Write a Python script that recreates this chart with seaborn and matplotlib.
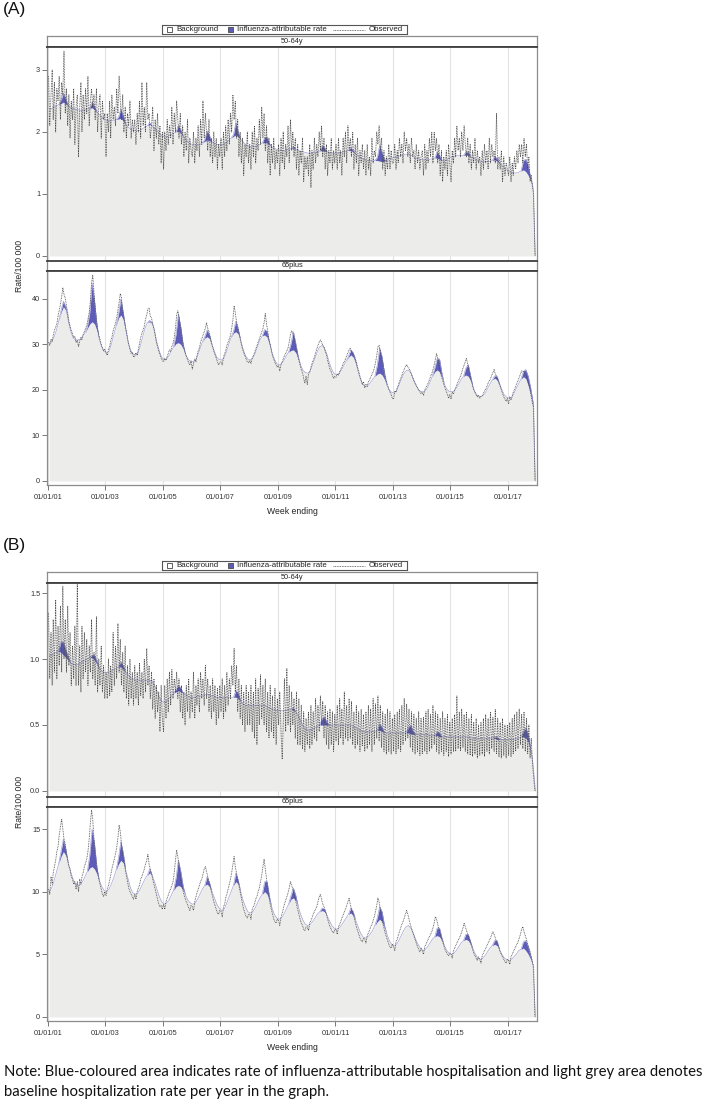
import numpy as np
import pandas as pd
import matplotlib
matplotlib.use("Agg")
import matplotlib.pyplot as plt
import matplotlib.dates as mdates
from matplotlib.patches import Rectangle
import seaborn as sns

sns.set_theme(style="white")
plt.rcParams['font.family'] = ['Liberation Sans', 'DejaVu Sans']

# ---------------- DATA (monthly background / flu, semi-monthly observed) -------------
# Panel A, 50-64y
bg_A50 = sum([
    [2.38, 2.38, 2.40, 2.42, 2.44, 2.46, 2.48, 2.45, 2.42, 2.40, 2.38, 2.37],
    [2.36, 2.35, 2.35, 2.36, 2.37, 2.38, 2.39, 2.36, 2.32, 2.28, 2.24, 2.21],
    [2.19, 2.18, 2.18, 2.19, 2.20, 2.21, 2.22, 2.18, 2.12, 2.08, 2.05, 2.03],
    [2.02, 2.02, 2.03, 2.05, 2.08, 2.10, 2.12, 2.10, 2.06, 2.02, 1.98, 1.94],
    [1.92, 1.92, 1.94, 1.96, 1.98, 2.00, 2.01, 1.98, 1.93, 1.88, 1.84, 1.81],
    [1.80, 1.79, 1.79, 1.80, 1.82, 1.85, 1.87, 1.86, 1.84, 1.82, 1.80, 1.80],
    [1.80, 1.81, 1.83, 1.86, 1.90, 1.93, 1.95, 1.92, 1.88, 1.84, 1.80, 1.78],
    [1.76, 1.76, 1.77, 1.78, 1.80, 1.82, 1.83, 1.82, 1.79, 1.76, 1.74, 1.72],
    [1.71, 1.70, 1.70, 1.71, 1.72, 1.73, 1.74, 1.72, 1.70, 1.69, 1.68, 1.67],
    [1.66, 1.66, 1.66, 1.67, 1.68, 1.69, 1.70, 1.69, 1.68, 1.67, 1.66, 1.66],
    [1.66, 1.66, 1.67, 1.68, 1.69, 1.70, 1.70, 1.68, 1.65, 1.62, 1.59, 1.57],
    [1.55, 1.54, 1.54, 1.54, 1.54, 1.54, 1.53, 1.52, 1.53, 1.55, 1.57, 1.58],
    [1.59, 1.60, 1.61, 1.62, 1.63, 1.64, 1.65, 1.63, 1.60, 1.58, 1.57, 1.56],
    [1.55, 1.55, 1.55, 1.56, 1.57, 1.58, 1.58, 1.56, 1.54, 1.53, 1.55, 1.58],
    [1.60, 1.61, 1.62, 1.62, 1.62, 1.62, 1.63, 1.62, 1.60, 1.58, 1.56, 1.54],
    [1.53, 1.52, 1.52, 1.52, 1.53, 1.54, 1.55, 1.53, 1.50, 1.46, 1.42, 1.39],
    [1.37, 1.35, 1.34, 1.34, 1.35, 1.37, 1.39, 1.36, 1.30, 1.22, 1.10, 0.00],
], [])
flu_A50 = sum([
    [0, 0, 0, 0, 0, 0.05, 0.15, 0.08, 0, 0, 0, 0],
    [0, 0, 0, 0, 0, 0, 0.10, 0.05, 0, 0, 0, 0],
    [0, 0, 0, 0, 0, 0.03, 0.15, 0.08, 0, 0, 0, 0],
    [0, 0, 0, 0, 0, 0, 0.03, 0, 0, 0, 0, 0],
    [0, 0, 0, 0, 0, 0, 0.10, 0.05, 0, 0, 0, 0],
    [0, 0, 0, 0, 0, 0.03, 0.15, 0.08, 0, 0, 0, 0],
    [0, 0, 0, 0, 0, 0.03, 0.20, 0.08, 0, 0, 0, 0],
    [0, 0, 0, 0, 0, 0, 0.08, 0.10, 0.02, 0, 0, 0],
    [0, 0, 0, 0, 0, 0, 0.03, 0, 0, 0, 0, 0],
    [0, 0, 0, 0, 0, 0, 0.08, 0.06, 0, 0, 0, 0],
    [0, 0, 0, 0, 0, 0, 0.05, 0.02, 0, 0, 0, 0],
    [0, 0, 0, 0, 0, 0.05, 0.25, 0.15, 0.02, 0, 0, 0],
    [0, 0, 0, 0, 0, 0, 0, 0, 0, 0, 0, 0],
    [0, 0, 0, 0, 0, 0, 0.10, 0.06, 0, 0, 0, 0],
    [0, 0, 0, 0, 0, 0, 0.05, 0.06, 0, 0, 0, 0],
    [0, 0, 0, 0, 0, 0, 0.06, 0.04, 0, 0, 0, 0],
    [0, 0, 0, 0, 0, 0, 0.15, 0.20, 0.15, 0.05, 0, 0],
], [])
obs_A50 = sum([
    [2.9, 2.1, 2.6, 3.0, 2.2, 2.8, 2.0, 2.7, 2.5, 2.9, 2.2, 2.8, 2.6, 3.3, 2.3, 2.7, 2.1, 2.6, 1.9, 2.5, 2.2, 2.7, 1.8, 2.4],
    [2.6, 1.6, 2.4, 2.8, 2.0, 2.6, 2.2, 2.7, 2.3, 2.9, 2.1, 2.5, 2.7, 2.4, 2.6, 2.2, 2.7, 2.0, 2.4, 2.6, 1.9, 2.5, 2.2, 2.3],
    [1.6, 2.3, 2.0, 2.5, 1.9, 2.6, 2.2, 2.4, 2.1, 2.7, 2.3, 2.9, 2.5, 2.2, 2.6, 2.0, 2.4, 1.9, 2.3, 2.1, 2.5, 1.9, 2.2, 2.0],
    [2.2, 1.8, 2.3, 2.0, 2.5, 1.9, 2.8, 2.1, 2.4, 2.0, 2.8, 2.2, 2.3, 1.9, 2.1, 2.4, 1.7, 2.2, 1.9, 2.3, 1.8, 2.1, 1.5, 2.0],
    [1.4, 2.0, 1.7, 2.2, 1.8, 2.1, 1.9, 2.4, 1.8, 2.3, 2.0, 2.5, 2.2, 1.9, 2.3, 1.8, 2.1, 1.6, 2.0, 1.7, 2.2, 1.5, 1.9, 1.7],
    [1.6, 2.0, 1.5, 1.9, 1.7, 2.1, 1.6, 2.2, 1.8, 2.5, 1.9, 2.3, 2.0, 1.7, 2.2, 1.6, 1.9, 1.5, 2.0, 1.6, 1.9, 1.4, 1.8, 1.6],
    [1.9, 1.4, 2.0, 1.6, 2.1, 1.7, 2.2, 1.8, 2.3, 2.0, 2.6, 2.2, 2.5, 1.9, 2.2, 1.6, 2.0, 1.5, 1.9, 1.3, 1.8, 1.6, 2.0, 1.5],
    [1.8, 1.4, 2.0, 1.6, 2.1, 1.5, 1.9, 1.7, 2.2, 1.8, 2.4, 1.9, 2.3, 1.7, 2.1, 1.5, 1.9, 1.3, 1.8, 1.5, 1.9, 1.4, 1.7, 1.5],
    [1.8, 1.3, 1.9, 1.5, 2.0, 1.4, 1.8, 1.6, 2.1, 1.5, 2.2, 1.7, 2.0, 1.6, 1.9, 1.4, 1.8, 1.3, 1.7, 1.5, 1.9, 1.2, 1.6, 1.4],
    [1.6, 1.3, 1.8, 1.1, 1.7, 1.4, 1.9, 1.5, 1.8, 1.6, 2.0, 1.7, 2.1, 1.6, 1.9, 1.4, 1.8, 1.3, 1.7, 1.5, 1.9, 1.4, 1.7, 1.5],
    [1.8, 1.4, 1.9, 1.5, 1.7, 1.3, 1.9, 1.6, 2.0, 1.5, 2.1, 1.7, 1.9, 1.6, 2.0, 1.4, 1.8, 1.5, 1.9, 1.3, 1.7, 1.5, 1.8, 1.4],
    [1.7, 1.3, 1.8, 1.4, 1.6, 1.3, 1.9, 1.5, 1.7, 1.6, 2.0, 1.8, 2.1, 1.7, 1.9, 1.4, 1.7, 1.3, 1.6, 1.4, 1.8, 1.4, 1.7, 1.5],
    [1.5, 1.8, 1.4, 1.7, 1.5, 1.9, 1.6, 1.8, 1.5, 2.0, 1.7, 1.9, 1.6, 1.8, 1.5, 1.9, 1.6, 1.7, 1.4, 1.8, 1.5, 1.7, 1.4, 1.6],
    [1.7, 1.3, 1.8, 1.4, 1.7, 1.5, 1.9, 1.6, 2.0, 1.5, 2.0, 1.7, 1.9, 1.5, 1.8, 1.3, 1.7, 1.2, 1.6, 1.4, 1.7, 1.3, 1.8, 1.5],
    [1.2, 1.7, 1.5, 1.9, 1.6, 2.1, 1.7, 1.9, 1.6, 2.0, 1.7, 2.1, 1.8, 1.6, 1.9, 1.5, 1.8, 1.4, 1.7, 1.5, 1.9, 1.4, 1.7, 1.5],
    [1.6, 1.3, 1.7, 1.4, 1.8, 1.5, 1.7, 1.4, 1.9, 1.5, 1.8, 1.6, 1.7, 1.5, 2.3, 1.4, 1.6, 1.4, 1.7, 1.2, 1.6, 1.3, 1.5, 1.4],
    [1.3, 1.6, 1.2, 1.5, 1.3, 1.6, 1.4, 1.7, 1.5, 1.8, 1.6, 1.8, 1.5, 1.9, 1.6, 1.8, 1.4, 1.6, 1.2, 1.3, 1.1, 1.0, 0.0],
], [])

# Panel A, 65plus
bg_A65 = sum([
    [30.3, 30.5, 31.5, 33.0, 35.0, 37.0, 38.3, 37.5, 35.0, 33.0, 31.5, 31.0],
    [31.0, 31.2, 31.8, 32.5, 33.5, 34.5, 35.0, 34.5, 33.0, 31.0, 29.5, 28.5],
    [28.1, 28.5, 30.0, 32.0, 34.0, 35.8, 36.5, 35.5, 33.0, 30.5, 28.8, 28.0],
    [27.7, 28.0, 29.5, 31.5, 33.5, 34.8, 35.0, 34.6, 33.0, 30.5, 28.5, 27.2],
    [26.6, 26.8, 27.5, 28.5, 29.5, 30.2, 30.4, 30.0, 29.0, 27.8, 26.8, 26.3],
    [26.2, 26.5, 27.5, 29.0, 30.5, 31.4, 31.7, 31.3, 30.0, 28.5, 27.2, 26.7],
    [26.6, 27.0, 28.3, 30.0, 31.5, 32.5, 32.8, 32.3, 31.0, 29.0, 27.5, 26.8],
    [26.6, 27.0, 28.0, 29.5, 31.0, 31.9, 32.1, 31.6, 30.0, 28.3, 26.8, 25.8],
    [25.5, 25.8, 26.5, 27.5, 28.3, 28.7, 28.8, 28.2, 27.0, 25.5, 24.3, 23.8],
    [23.7, 24.2, 25.5, 27.0, 28.5, 29.5, 29.8, 29.2, 27.8, 26.0, 24.5, 23.6],
    [23.3, 23.6, 24.3, 25.3, 26.3, 27.2, 27.7, 27.2, 25.8, 24.0, 22.3, 21.2],
    [20.7, 20.9, 21.5, 22.3, 23.0, 23.5, 23.7, 23.3, 22.3, 21.0, 20.0, 19.5],
    [19.3, 19.8, 21.0, 22.3, 23.5, 24.2, 24.4, 23.8, 22.5, 21.2, 20.2, 19.7],
    [19.6, 19.8, 20.5, 21.7, 23.0, 24.0, 24.4, 24.0, 22.8, 21.3, 20.2, 19.7],
    [19.6, 19.8, 20.4, 21.3, 22.3, 23.0, 23.3, 23.0, 22.0, 20.6, 19.3, 18.7],
    [18.5, 18.7, 19.3, 20.3, 21.3, 22.2, 22.6, 22.2, 21.2, 20.0, 18.9, 18.4],
    [18.2, 18.4, 19.2, 20.3, 21.4, 22.4, 22.9, 22.5, 21.0, 19.0, 16.5, 0.0],
], [])
flu_A65 = sum([
    [0, 0, 0, 0, 0, 0.4, 1.2, 0.7, 0.2, 0, 0, 0],
    [0, 0, 0, 0, 0.4, 2.5, 8.5, 5.0, 1.2, 0, 0, 0],
    [0, 0, 0, 0, 0, 0.8, 3.5, 1.5, 0.3, 0, 0, 0],
    [0, 0, 0, 0, 0, 0, 0.3, 0.2, 0, 0, 0, 0],
    [0, 0, 0, 0, 0, 2.0, 6.3, 3.8, 0.8, 0, 0, 0],
    [0, 0, 0, 0, 0, 0.3, 1.5, 0.8, 0, 0, 0, 0],
    [0, 0, 0, 0, 0, 0.4, 2.3, 1.0, 0, 0, 0, 0],
    [0, 0, 0, 0, 0, 0, 1.2, 1.3, 0.4, 0, 0, 0],
    [0, 0, 0, 0, 0, 1.5, 4.0, 2.0, 0.3, 0, 0, 0],
    [0, 0, 0, 0, 0, 0, 0, 0, 0, 0, 0, 0],
    [0, 0, 0, 0, 0, 0.2, 1.1, 1.0, 0.5, 0, 0, 0],
    [0, 0, 0, 0, 0, 2.0, 5.5, 4.0, 1.2, 0, 0, 0],
    [0, 0, 0, 0, 0, 0, 0, 0, 0, 0, 0, 0],
    [0, 0, 0, 0, 0, 0.8, 2.5, 2.8, 0.8, 0, 0, 0],
    [0, 0, 0, 0, 0, 0, 1.5, 2.6, 1.0, 0, 0, 0],
    [0, 0, 0, 0, 0, 0, 0.5, 0.8, 0.2, 0, 0, 0],
    [0, 0, 0, 0, 0, 0, 1.2, 2.0, 2.0, 1.5, 0.8, 0],
], [])
obs_A65 = sum([
    [30.5, 29.8, 31.2, 30.6, 32.0, 33.1, 33.8, 34.5, 36.2, 37.5, 38.8, 40.5, 42.5, 41.0, 40.2, 38.5, 37.0, 35.2, 34.0, 33.1, 32.4, 31.5, 31.8, 30.4],
    [31.0, 29.5, 30.8, 31.5, 31.0, 32.2, 32.8, 33.5, 34.2, 35.5, 37.0, 39.5, 43.5, 45.2, 41.5, 38.0, 35.5, 33.5, 32.0, 31.2, 30.0, 29.2, 28.6, 29.0],
    [28.2, 27.6, 29.0, 29.5, 30.8, 31.5, 33.0, 33.8, 34.6, 35.8, 37.5, 39.2, 41.2, 40.3, 37.5, 35.8, 34.2, 33.0, 31.5, 30.0, 29.0, 28.0, 28.3, 27.2],
    [27.5, 28.2, 27.6, 29.0, 30.2, 31.5, 32.5, 33.2, 34.0, 35.5, 36.5, 37.8, 38.0, 36.2, 35.8, 34.5, 33.5, 32.0, 30.5, 29.5, 28.5, 27.8, 27.0, 26.5],
    [26.2, 27.0, 26.5, 27.4, 28.0, 28.8, 28.5, 29.6, 30.2, 31.5, 33.5, 36.5, 37.4, 36.0, 34.2, 32.5, 30.5, 29.5, 28.2, 27.5, 26.8, 26.0, 25.5, 26.4],
    [24.6, 25.8, 26.8, 26.2, 27.5, 28.6, 29.2, 30.5, 31.2, 32.0, 32.8, 33.6, 34.8, 33.5, 32.8, 31.5, 30.2, 29.5, 28.5, 27.8, 27.0, 26.2, 25.5, 26.0],
    [26.2, 25.5, 27.2, 28.0, 28.6, 29.8, 30.5, 31.2, 32.0, 33.5, 35.5, 38.5, 37.0, 35.0, 34.0, 32.5, 31.2, 30.0, 29.0, 28.2, 27.5, 26.8, 26.2, 26.0],
    [26.5, 25.8, 27.0, 27.5, 28.2, 29.0, 29.8, 30.5, 31.2, 32.0, 32.8, 33.5, 34.8, 36.8, 34.5, 33.0, 31.0, 30.0, 28.8, 27.5, 26.8, 26.0, 25.5, 25.0],
    [25.4, 24.2, 25.6, 26.2, 26.8, 27.5, 28.0, 28.6, 29.2, 30.5, 32.2, 33.0, 32.5, 31.5, 30.0, 28.8, 27.5, 26.5, 25.5, 24.5, 23.8, 22.5, 21.5, 23.0],
    [21.2, 23.5, 24.0, 25.0, 25.8, 26.5, 27.2, 28.2, 29.0, 29.8, 30.5, 31.0, 30.5, 29.8, 29.5, 28.5, 27.8, 26.5, 25.5, 24.5, 24.0, 23.2, 22.5, 23.0],
    [22.8, 23.6, 23.2, 24.0, 24.5, 25.0, 25.8, 26.2, 26.8, 27.5, 28.2, 28.8, 29.2, 28.5, 28.0, 27.6, 27.0, 26.2, 25.0, 24.2, 23.0, 22.2, 21.2, 21.8],
    [20.5, 21.3, 20.8, 21.8, 22.2, 22.8, 23.5, 24.0, 24.8, 26.0, 27.5, 29.5, 29.8, 28.5, 27.0, 26.0, 24.5, 23.2, 22.0, 21.2, 20.2, 19.5, 19.0, 18.2],
    [18.0, 19.8, 19.5, 20.5, 21.0, 21.8, 22.5, 23.2, 24.0, 24.5, 25.2, 25.6, 25.0, 24.8, 24.2, 23.5, 22.8, 22.0, 21.5, 21.0, 20.5, 20.0, 19.6, 19.2],
    [19.5, 18.8, 20.0, 20.5, 21.0, 21.5, 22.2, 23.0, 23.5, 24.5, 25.5, 26.8, 28.0, 27.0, 25.5, 24.0, 23.0, 22.0, 21.2, 20.5, 19.8, 19.0, 18.2, 19.0],
    [18.0, 19.5, 19.2, 20.0, 20.5, 21.2, 21.8, 22.5, 23.0, 23.8, 24.8, 25.5, 26.2, 27.0, 25.5, 24.2, 23.0, 22.0, 21.0, 20.0, 19.5, 19.0, 18.5, 18.8],
    [18.2, 18.6, 18.8, 19.2, 19.8, 20.2, 20.8, 21.5, 22.0, 22.5, 23.2, 23.8, 24.5, 23.5, 23.0, 22.2, 21.5, 20.8, 20.0, 19.2, 18.5, 18.0, 17.5, 18.2],
    [17.0, 18.5, 17.8, 18.6, 19.5, 20.0, 20.8, 21.5, 22.0, 22.8, 23.5, 24.2, 24.0, 24.2, 23.5, 23.0, 22.0, 21.0, 20.0, 18.5, 17.0, 16.2, 0.0],
], [])

# Panel B, 50-64y
bg_B50 = sum([
    [1.03, 1.03, 1.04, 1.05, 1.06, 1.05, 1.03, 1.01, 0.99, 0.97, 0.96, 0.96],
    [0.96, 0.97, 0.98, 0.99, 1.00, 1.01, 1.01, 0.99, 0.96, 0.93, 0.91, 0.90],
    [0.90, 0.90, 0.91, 0.92, 0.93, 0.94, 0.94, 0.92, 0.90, 0.88, 0.86, 0.85],
    [0.84, 0.84, 0.84, 0.84, 0.84, 0.84, 0.84, 0.83, 0.80, 0.76, 0.71, 0.68],
    [0.67, 0.68, 0.70, 0.72, 0.74, 0.75, 0.76, 0.75, 0.74, 0.73, 0.72, 0.71],
    [0.71, 0.71, 0.72, 0.72, 0.72, 0.73, 0.73, 0.73, 0.72, 0.72, 0.71, 0.71],
    [0.71, 0.71, 0.71, 0.71, 0.71, 0.71, 0.71, 0.70, 0.68, 0.66, 0.65, 0.65],
    [0.65, 0.65, 0.65, 0.65, 0.65, 0.65, 0.65, 0.64, 0.63, 0.62, 0.62, 0.61],
    [0.61, 0.61, 0.61, 0.61, 0.62, 0.62, 0.61, 0.60, 0.57, 0.53, 0.49, 0.47],
    [0.46, 0.46, 0.47, 0.48, 0.49, 0.50, 0.50, 0.50, 0.50, 0.50, 0.50, 0.50],
    [0.50, 0.50, 0.50, 0.50, 0.50, 0.50, 0.50, 0.49, 0.48, 0.47, 0.46, 0.45],
    [0.45, 0.45, 0.45, 0.45, 0.45, 0.46, 0.46, 0.45, 0.44, 0.44, 0.44, 0.44],
    [0.44, 0.44, 0.44, 0.44, 0.44, 0.44, 0.44, 0.43, 0.43, 0.43, 0.43, 0.43],
    [0.43, 0.43, 0.43, 0.42, 0.42, 0.42, 0.42, 0.41, 0.41, 0.41, 0.41, 0.41],
    [0.41, 0.41, 0.41, 0.41, 0.41, 0.41, 0.41, 0.41, 0.40, 0.40, 0.40, 0.40],
    [0.40, 0.40, 0.40, 0.40, 0.40, 0.40, 0.40, 0.39, 0.39, 0.39, 0.39, 0.39],
    [0.39, 0.39, 0.39, 0.40, 0.40, 0.41, 0.41, 0.40, 0.37, 0.30, 0.20, 0.00],
], [])
flu_B50 = sum([
    [0, 0, 0, 0, 0, 0.08, 0.10, 0.06, 0.03, 0, 0, 0],
    [0, 0, 0, 0, 0, 0, 0.02, 0.04, 0.02, 0, 0, 0],
    [0, 0, 0, 0, 0, 0, 0.04, 0.03, 0, 0, 0, 0],
    [0, 0, 0, 0, 0, 0, 0, 0, 0, 0, 0, 0],
    [0, 0, 0, 0, 0, 0.02, 0.04, 0.03, 0, 0, 0, 0],
    [0, 0, 0, 0, 0, 0, 0, 0, 0, 0, 0, 0],
    [0, 0, 0, 0, 0, 0, 0.05, 0.04, 0, 0, 0, 0],
    [0, 0, 0, 0, 0, 0, 0, 0, 0, 0, 0, 0],
    [0, 0, 0, 0, 0, 0, 0.02, 0, 0, 0, 0, 0],
    [0, 0, 0, 0, 0, 0, 0.05, 0.06, 0.02, 0, 0, 0],
    [0, 0, 0, 0, 0, 0, 0, 0, 0, 0, 0, 0],
    [0, 0, 0, 0, 0, 0, 0.05, 0.03, 0, 0, 0, 0],
    [0, 0, 0, 0, 0, 0, 0.04, 0.07, 0.02, 0, 0, 0],
    [0, 0, 0, 0, 0, 0, 0.03, 0.03, 0, 0, 0, 0],
    [0, 0, 0, 0, 0, 0, 0, 0, 0, 0, 0, 0],
    [0, 0, 0, 0, 0, 0, 0.01, 0.02, 0, 0, 0, 0],
    [0, 0, 0, 0, 0, 0, 0.04, 0.08, 0.06, 0.02, 0, 0],
], [])
obs_B50 = sum([
    [1.35, 0.85, 1.2, 0.8, 1.3, 0.9, 1.45, 0.85, 1.25, 0.95, 1.4, 0.9, 1.55, 1.0, 1.3, 0.9, 1.4, 0.95, 1.2, 0.8, 1.1, 0.85, 1.25, 0.8],
    [1.58, 0.8, 1.1, 0.75, 1.25, 0.85, 1.2, 0.9, 1.15, 0.8, 1.1, 0.9, 1.3, 0.85, 1.05, 0.8, 1.32, 0.75, 1.0, 0.8, 1.1, 0.75, 0.95, 0.7],
    [0.9, 0.7, 1.0, 0.72, 0.95, 0.75, 1.2, 0.8, 1.1, 0.85, 1.27, 0.9, 1.15, 0.8, 1.05, 0.75, 1.1, 0.7, 0.95, 0.65, 1.0, 0.7, 0.9, 0.65],
    [0.95, 0.7, 0.9, 0.65, 0.97, 0.72, 0.9, 0.7, 1.0, 0.75, 1.08, 0.8, 0.95, 0.7, 0.9, 0.62, 0.85, 0.55, 0.8, 0.6, 0.75, 0.45, 0.8, 0.55],
    [0.45, 0.8, 0.55, 0.85, 0.6, 0.9, 0.65, 0.92, 0.7, 0.85, 0.75, 0.9, 0.7, 0.85, 0.6, 0.8, 0.55, 0.75, 0.5, 0.8, 0.6, 0.85, 0.55, 0.75],
    [0.6, 0.9, 0.55, 0.8, 0.65, 0.85, 0.6, 0.9, 0.7, 0.85, 0.65, 0.95, 0.7, 0.85, 0.6, 0.8, 0.55, 0.85, 0.6, 0.8, 0.5, 0.78, 0.55, 0.8],
    [0.6, 0.85, 0.55, 0.8, 0.6, 0.9, 0.65, 0.85, 0.7, 0.95, 0.8, 1.08, 0.75, 0.95, 0.6, 0.85, 0.55, 0.8, 0.5, 0.75, 0.45, 0.8, 0.5, 0.75],
    [0.5, 0.8, 0.45, 0.75, 0.4, 0.85, 0.35, 0.78, 0.5, 0.88, 0.55, 0.8, 0.5, 0.85, 0.45, 0.75, 0.4, 0.8, 0.45, 0.72, 0.4, 0.78, 0.35, 0.7],
    [0.5, 0.75, 0.45, 0.24, 0.5, 0.85, 0.45, 0.93, 0.5, 0.8, 0.45, 0.75, 0.5, 0.7, 0.4, 0.75, 0.35, 0.7, 0.35, 0.65, 0.32, 0.6, 0.3, 0.55],
    [0.35, 0.6, 0.32, 0.65, 0.35, 0.6, 0.4, 0.7, 0.38, 0.65, 0.45, 0.72, 0.5, 0.68, 0.4, 0.65, 0.35, 0.6, 0.32, 0.62, 0.35, 0.6, 0.3, 0.58],
    [0.38, 0.65, 0.35, 0.7, 0.4, 0.62, 0.35, 0.75, 0.4, 0.65, 0.38, 0.7, 0.4, 0.68, 0.35, 0.6, 0.32, 0.65, 0.35, 0.6, 0.3, 0.62, 0.34, 0.58],
    [0.3, 0.6, 0.32, 0.65, 0.35, 0.62, 0.3, 0.7, 0.35, 0.66, 0.4, 0.72, 0.38, 0.65, 0.33, 0.6, 0.3, 0.58, 0.28, 0.62, 0.3, 0.6, 0.28, 0.55],
    [0.3, 0.58, 0.28, 0.6, 0.32, 0.62, 0.3, 0.65, 0.35, 0.7, 0.38, 0.66, 0.4, 0.62, 0.33, 0.6, 0.3, 0.58, 0.28, 0.55, 0.3, 0.6, 0.27, 0.55],
    [0.28, 0.56, 0.3, 0.6, 0.28, 0.62, 0.3, 0.58, 0.32, 0.65, 0.35, 0.6, 0.3, 0.58, 0.28, 0.55, 0.3, 0.6, 0.27, 0.55, 0.3, 0.58, 0.26, 0.52],
    [0.28, 0.55, 0.3, 0.58, 0.3, 0.72, 0.32, 0.6, 0.3, 0.62, 0.33, 0.58, 0.3, 0.6, 0.28, 0.55, 0.27, 0.58, 0.26, 0.52, 0.28, 0.55, 0.25, 0.5],
    [0.27, 0.52, 0.28, 0.55, 0.26, 0.58, 0.3, 0.55, 0.28, 0.6, 0.32, 0.56, 0.3, 0.62, 0.28, 0.55, 0.26, 0.52, 0.25, 0.55, 0.27, 0.5, 0.25, 0.5],
    [0.27, 0.52, 0.26, 0.55, 0.28, 0.58, 0.3, 0.6, 0.32, 0.62, 0.35, 0.58, 0.32, 0.6, 0.3, 0.55, 0.28, 0.5, 0.25, 0.4, 0.2, 0.1, 0.0],
], [])

# Panel B, 65plus
bg_B65 = sum([
    [10.0, 10.3, 10.8, 11.5, 12.2, 12.8, 13.2, 12.9, 12.3, 11.6, 11.0, 10.6],
    [10.5, 10.6, 10.8, 11.2, 11.6, 11.9, 12.0, 11.8, 11.4, 10.9, 10.4, 10.1],
    [10.0, 10.2, 10.6, 11.1, 11.7, 12.2, 12.5, 12.3, 11.7, 11.0, 10.3, 9.9],
    [9.8, 9.9, 10.2, 10.6, 11.0, 11.3, 11.5, 11.3, 10.8, 10.2, 9.6, 9.2],
    [9.0, 9.1, 9.3, 9.7, 10.1, 10.4, 10.5, 10.4, 10.1, 9.7, 9.3, 9.1],
    [9.0, 9.1, 9.4, 9.8, 10.2, 10.5, 10.6, 10.4, 10.0, 9.5, 9.0, 8.7],
    [8.5, 8.6, 9.0, 9.5, 10.0, 10.5, 10.8, 10.6, 10.0, 9.3, 8.8, 8.4],
    [8.3, 8.4, 8.7, 9.1, 9.5, 9.8, 10.0, 9.8, 9.3, 8.7, 8.2, 7.9],
    [7.8, 7.9, 8.2, 8.6, 9.0, 9.4, 9.5, 9.3, 8.8, 8.2, 7.7, 7.4],
    [7.3, 7.4, 7.6, 7.9, 8.2, 8.4, 8.5, 8.4, 8.1, 7.7, 7.3, 7.1],
    [7.0, 7.1, 7.3, 7.6, 7.9, 8.2, 8.3, 8.1, 7.7, 7.2, 6.7, 6.4],
    [6.3, 6.4, 6.6, 6.9, 7.3, 7.6, 7.8, 7.6, 7.1, 6.6, 6.1, 5.8],
    [5.7, 5.8, 6.1, 6.5, 6.9, 7.2, 7.3, 7.1, 6.7, 6.2, 5.8, 5.5],
    [5.3, 5.4, 5.6, 5.9, 6.2, 6.4, 6.5, 6.4, 6.1, 5.7, 5.3, 5.1],
    [5.0, 5.1, 5.3, 5.6, 5.9, 6.1, 6.2, 6.1, 5.8, 5.4, 5.0, 4.7],
    [4.6, 4.7, 4.9, 5.2, 5.5, 5.7, 5.8, 5.7, 5.4, 5.0, 4.7, 4.6],
    [4.5, 4.6, 4.8, 5.0, 5.3, 5.4, 5.5, 5.3, 5.0, 4.6, 4.1, 0.0],
], [])
flu_B65 = sum([
    [0, 0, 0, 0, 0, 0.4, 1.0, 0.5, 0, 0, 0, 0],
    [0, 0, 0, 0, 0, 1.0, 3.0, 2.0, 0.5, 0, 0, 0],
    [0, 0, 0, 0, 0, 0.5, 1.5, 0.8, 0, 0, 0, 0],
    [0, 0, 0, 0, 0, 0, 0.3, 0, 0, 0, 0, 0],
    [0, 0, 0, 0, 0, 0.7, 2.0, 1.2, 0.3, 0, 0, 0],
    [0, 0, 0, 0, 0, 0, 0.6, 0.3, 0, 0, 0, 0],
    [0, 0, 0, 0, 0, 0, 0.7, 0.3, 0, 0, 0, 0],
    [0, 0, 0, 0, 0, 0, 0.8, 1.0, 0.3, 0, 0, 0],
    [0, 0, 0, 0, 0, 0.3, 0.8, 0.4, 0, 0, 0, 0],
    [0, 0, 0, 0, 0, 0, 0.2, 0.2, 0, 0, 0, 0],
    [0, 0, 0, 0, 0, 0, 0.4, 0.3, 0, 0, 0, 0],
    [0, 0, 0, 0, 0, 0.3, 1.0, 0.8, 0.2, 0, 0, 0],
    [0, 0, 0, 0, 0, 0, 0, 0, 0, 0, 0, 0],
    [0, 0, 0, 0, 0, 0, 0.6, 0.7, 0.2, 0, 0, 0],
    [0, 0, 0, 0, 0, 0, 0.4, 0.5, 0.2, 0, 0, 0],
    [0, 0, 0, 0, 0, 0, 0.3, 0.4, 0, 0, 0, 0],
    [0, 0, 0, 0, 0, 0, 0.5, 0.8, 0.6, 0.3, 0, 0],
], [])
obs_B65 = sum([
    [10.2, 9.8, 11.2, 10.6, 11.5, 12.0, 12.5, 13.2, 13.6, 14.5, 15.2, 15.8, 15.0, 14.2, 13.8, 13.0, 12.5, 12.0, 11.8, 11.2, 11.0, 10.6, 10.8, 10.2],
    [10.8, 10.0, 11.0, 10.6, 11.2, 11.5, 12.0, 12.3, 12.6, 13.2, 14.2, 15.5, 16.5, 15.8, 14.2, 13.0, 12.2, 11.5, 11.0, 10.6, 10.2, 9.8, 9.6, 10.0],
    [9.7, 10.2, 10.5, 10.9, 11.3, 11.8, 12.2, 12.6, 13.0, 13.5, 14.3, 15.3, 14.8, 13.8, 13.0, 12.5, 11.8, 11.3, 10.8, 10.3, 10.0, 9.8, 9.6, 9.4],
    [9.8, 9.4, 10.0, 10.3, 10.5, 11.0, 11.2, 11.5, 11.8, 12.2, 12.5, 13.0, 12.2, 11.8, 11.5, 11.0, 10.6, 10.2, 9.8, 9.4, 9.0, 8.8, 8.9, 8.6],
    [9.0, 8.6, 9.2, 9.5, 9.7, 10.0, 10.2, 10.5, 10.8, 11.5, 12.5, 13.3, 12.8, 12.0, 11.2, 10.6, 10.2, 9.8, 9.5, 9.2, 9.0, 8.7, 8.5, 8.9],
    [8.8, 8.5, 9.2, 9.6, 9.9, 10.2, 10.5, 10.8, 11.0, 11.4, 11.8, 12.0, 11.6, 11.2, 10.8, 10.4, 10.0, 9.6, 9.2, 8.9, 8.6, 8.3, 8.2, 8.5],
    [8.4, 8.0, 8.8, 9.0, 9.5, 9.8, 10.2, 10.6, 11.0, 11.5, 12.2, 12.8, 12.0, 11.5, 11.0, 10.5, 10.0, 9.5, 9.0, 8.6, 8.3, 8.0, 7.9, 8.2],
    [8.2, 7.8, 8.6, 8.8, 9.0, 9.4, 9.6, 10.0, 10.3, 10.8, 11.3, 12.0, 12.6, 11.8, 11.0, 10.3, 9.6, 9.0, 8.6, 8.2, 7.8, 7.6, 7.5, 7.8],
    [7.7, 7.3, 8.0, 8.3, 8.6, 9.0, 9.3, 9.6, 9.9, 10.3, 10.8, 10.5, 10.2, 9.8, 9.4, 9.0, 8.6, 8.2, 7.8, 7.5, 7.3, 7.0, 6.9, 7.2],
    [7.2, 6.9, 7.5, 7.7, 7.9, 8.2, 8.4, 8.6, 8.8, 9.2, 9.6, 9.8, 9.4, 9.0, 8.8, 8.5, 8.2, 7.8, 7.5, 7.2, 7.0, 6.8, 6.7, 7.0],
    [7.0, 6.6, 7.2, 7.4, 7.6, 7.9, 8.1, 8.4, 8.6, 8.9, 9.2, 9.5, 9.0, 8.6, 8.3, 8.0, 7.6, 7.2, 6.9, 6.6, 6.3, 6.1, 6.0, 6.3],
    [6.2, 5.9, 6.5, 6.7, 6.9, 7.2, 7.4, 7.7, 8.0, 8.4, 8.9, 9.5, 9.2, 8.6, 8.0, 7.5, 7.1, 6.7, 6.4, 6.1, 5.8, 5.6, 5.5, 5.8],
    [5.6, 5.3, 6.0, 6.2, 6.5, 6.8, 7.1, 7.4, 7.6, 7.9, 8.2, 8.5, 8.2, 7.8, 7.4, 7.1, 6.8, 6.5, 6.2, 5.9, 5.6, 5.4, 5.2, 5.5],
    [5.3, 5.0, 5.6, 5.8, 6.0, 6.2, 6.4, 6.6, 6.8, 7.1, 7.5, 8.0, 7.8, 7.4, 7.0, 6.6, 6.3, 6.0, 5.7, 5.4, 5.2, 5.0, 4.9, 5.1],
    [5.0, 4.7, 5.3, 5.5, 5.7, 5.9, 6.1, 6.3, 6.5, 6.8, 7.1, 7.5, 7.2, 6.9, 6.6, 6.3, 6.0, 5.7, 5.4, 5.1, 4.9, 4.7, 4.5, 4.8],
    [4.6, 4.3, 4.9, 5.1, 5.3, 5.5, 5.7, 5.9, 6.1, 6.3, 6.6, 6.8, 6.6, 6.3, 6.0, 5.8, 5.5, 5.2, 5.0, 4.8, 4.6, 4.4, 4.3, 4.6],
    [4.5, 4.2, 4.8, 5.0, 5.2, 5.4, 5.6, 5.8, 6.0, 6.3, 6.6, 7.0, 7.2, 6.8, 6.5, 6.2, 5.8, 5.5, 5.2, 4.8, 4.4, 4.0, 0.0],
], [])

panel_labels = ["(A)", "(B)"]
facet_labels = ["50-64y", "65plus"]
legend_labels = ["Background", "Influenza-attributable rate", "Observed"]
y_ticks_A50 = [0, 1, 2, 3]
y_ticks_A65 = [0, 10, 20, 30, 40]
y_ticks_B50 = [0.0, 0.5, 1.0, 1.5]
y_ticks_B65 = [0, 5, 10, 15]
x_tick_years = [2001, 2003, 2005, 2007, 2009, 2011, 2013, 2015, 2017]
y_title = "Rate/100 000"
x_title = "Week ending"
note_line1 = ("Note: Blue-coloured area indicates rate of influenza-attributable "
              "hospitalisation and light grey area denotes")
note_line2 = "baseline hospitalization rate per year in the graph."

# ---------------- STYLE ----------------
GREY = "#ECECEB"
BLUE = "#5D5DB9"
BLUE_LINE = "#9C9CD4"
OBS = "#4A4A4A"
SPINE = "#8C8C8C"
DARK = "#404040"

W, H = 709, 1105
fig = plt.figure(figsize=(W / 100, H / 100), dpi=100)
fig.patch.set_facecolor("white")


def add_px(x0, y0, x1, y1):
    return fig.add_axes([x0 / W, 1 - y1 / H, (x1 - x0) / W, (y1 - y0) / H])


def month_dates(n):
    return pd.date_range("2001-01-01", periods=n, freq="MS") + pd.Timedelta(days=14)


def semi_dates(n):
    out = []
    for ms in pd.date_range("2001-01-01", periods=(n + 1) // 2, freq="MS"):
        out.append(ms + pd.Timedelta(days=7))
        out.append(ms + pd.Timedelta(days=22))
    return pd.DatetimeIndex(out[:n])


X0, X1 = 47, 537
XLIM = (pd.Timestamp("2000-12-19"), pd.Timestamp("2018-01-04"))
XTICKS = [pd.Timestamp(f"{y}-01-01") for y in x_tick_years]


def draw_facet(ax, bg, flu, obs, ylim, yticks, yfmt, show_x):
    bg = np.asarray(bg, float)
    flu = np.asarray(flu, float)
    md = month_dates(len(bg))
    od = semi_dates(len(obs))
    ax.set_facecolor("white")
    ax.fill_between(md, 0, bg, color=GREY, lw=0, zorder=1)
    ax.fill_between(md, bg, bg + flu, color=BLUE, lw=0, zorder=2)
    ax.plot(md, bg + flu, color=BLUE_LINE, lw=0.45, zorder=2)
    df = pd.DataFrame({"date": od, "obs": obs})
    sns.lineplot(data=df, x="date", y="obs", ax=ax, color=OBS, linewidth=0.6,
                 linestyle=(0, (1, 1)), estimator=None, legend=False, zorder=3)
    ax.set_xlabel("")
    ax.set_ylabel("")
    ax.set_xlim(*XLIM)
    ax.set_ylim(*ylim)
    ax.set_xticks(XTICKS)
    ax.xaxis.set_major_formatter(mdates.DateFormatter("%d/%m/%y"))
    ax.set_yticks(yticks)
    ax.set_yticklabels([yfmt.format(v) for v in yticks])
    ax.set_axisbelow(True)
    ax.xaxis.grid(True, color="#E2E2E2", lw=0.8)
    ax.yaxis.grid(False)
    for s in ["left", "right", "bottom"]:
        ax.spines[s].set_color(SPINE)
        ax.spines[s].set_linewidth(0.9)
    ax.spines["top"].set_color(DARK)
    ax.spines["top"].set_linewidth(1.3)
    ax.tick_params(axis="y", left=True, direction="out", length=3.5, width=0.7,
                   color="#777777", labelcolor="#333333", labelsize=5.3, pad=1.5)
    if show_x:
        ax.tick_params(axis="x", bottom=True, direction="out", length=3.5, width=0.7,
                       color="#777777", labelcolor="#333333", labelsize=5.3, pad=3)
    else:
        ax.tick_params(axis="x", bottom=False, labelbottom=False)


def draw_strip(y0, y1, label, first):
    sax = add_px(X0, y0, X1, y1)
    sax.set_facecolor("white")
    sax.set_xticks([])
    sax.set_yticks([])
    for s in ["left", "right"]:
        sax.spines[s].set_color(SPINE)
        sax.spines[s].set_linewidth(0.9)
    sax.spines["top"].set_color(SPINE if first else DARK)
    sax.spines["top"].set_linewidth(0.9 if first else 1.3)
    sax.spines["bottom"].set_color(DARK)
    sax.spines["bottom"].set_linewidth(1.3)
    sax.text(0.5, 0.5, label, transform=sax.transAxes, ha="center", va="center",
             fontsize=5.3, color="#222222")


def draw_legend(y0):
    lax = add_px(162, y0, 407, y0 + 9)
    lax.set_xlim(162, 407)
    lax.set_ylim(y0 + 9, y0)
    lax.set_facecolor("white")
    lax.set_xticks([])
    lax.set_yticks([])
    for s in lax.spines.values():
        s.set_color("#555555")
        s.set_linewidth(0.8)
    yc = y0 + 4.5
    lax.add_patch(Rectangle((167, yc - 2.6), 5.2, 5.2, fc="white", ec="#444444", lw=0.6))
    lax.text(176.5, yc, legend_labels[0], fontsize=5.7, va="center", ha="left", color="#222222")
    lax.add_patch(Rectangle((227.5, yc - 2.6), 5.2, 5.2, fc=BLUE, ec="#333333", lw=0.5))
    lax.text(237, yc, legend_labels[1], fontsize=5.7, va="center", ha="left", color="#222222")
    lax.plot([333, 365], [yc, yc], color=OBS, lw=0.6, linestyle=(0, (1, 1)))
    lax.text(369, yc, legend_labels[2], fontsize=5.7, va="center", ha="left", color="#222222")


panels = [
    (0, [(bg_A50, flu_A50, obs_A50, (-0.073, 3.371), y_ticks_A50, "{:.0f}"),
         (bg_A65, flu_A65, obs_A65, (-0.88, 46.15), y_ticks_A65, "{:.0f}")]),
    (536, [(bg_B50, flu_B50, obs_B50, (-0.042, 1.576), y_ticks_B50, "{:.1f}"),
           (bg_B65, flu_B65, obs_B65, (-0.32, 16.76), y_ticks_B65, "{:.0f}")]),
]

for pi, (off, facets) in enumerate(panels):
    fig.text(3 / W, 1 - (2 + off) / H, panel_labels[pi], fontsize=12.5, va="top",
             ha="left", color="#111111")
    draw_legend(25 + off)
    draw_strip(36 + off, 47 + off, facet_labels[0], True)
    ax1 = add_px(X0, 47 + off, X1, 260.5 + off)
    draw_facet(ax1, *facets[0], show_x=False)
    draw_strip(260.5 + off, 271 + off, facet_labels[1], False)
    ax2 = add_px(X0, 271 + off, X1, 485 + off)
    draw_facet(ax2, *facets[1], show_x=True)
    fig.text(20 / W, 1 - (266 + off) / H, y_title, rotation=90, fontsize=6.2,
             ha="center", va="center", color="#222222")
    fig.text(292 / W, 1 - (511 + off) / H, x_title, fontsize=6.2,
             ha="center", va="center", color="#222222")

# note text, fitted to the page width
note_fam = ["Lato", "DejaVu Sans"]
t1 = fig.text(4 / W, 1 - 1072 / H, note_line1, fontsize=10, family=note_fam,
              ha="left", va="center", color="#111111")
fig.canvas.draw()
w1 = t1.get_window_extent(fig.canvas.get_renderer()).width
fs = 10 * 701 / w1
t1.set_fontsize(fs)
fig.text(4 / W, 1 - 1092 / H, note_line2, fontsize=fs, family=note_fam,
         ha="left", va="center", color="#111111")

fig.savefig("out.png", dpi=100, facecolor="white")
